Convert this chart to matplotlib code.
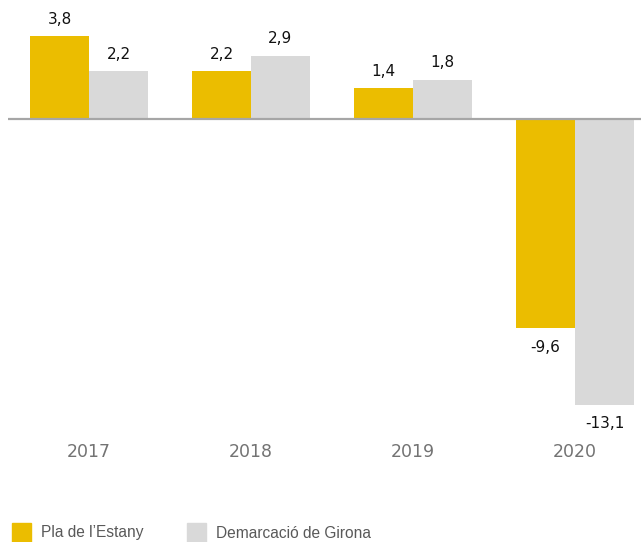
import numpy as np
import matplotlib
matplotlib.use("Agg")
import matplotlib.pyplot as plt
from matplotlib.patches import Rectangle

# Dades
anys = ["2017", "2018", "2019", "2020"]
pla_estany = [3.8, 2.2, 1.4, -9.6]
girona = [2.2, 2.9, 1.8, -13.1]
series = ["Pla de l\u2019Estany", "Demarcació de Girona"]
colors = ["#EBBD00", "#D9D9D9"]

W, H = 641, 542
fig = plt.figure(figsize=(W / 100, H / 100), dpi=100)

# eix: esquerra 8px, dreta 641px, dalt 0px, baix 420px
ax = fig.add_axes([8 / W, 1 - 420 / H, (W - 8) / W, 420 / H])

x = np.arange(len(anys))
w = 0.364
b1 = ax.bar(x - w / 2, pla_estany, width=w, color=colors[0])
b2 = ax.bar(x + w / 2, girona, width=w, color=colors[1])

ppu = 21.8  # pixels per unit
ax.set_ylim(-(420 - 119) / ppu, 119 / ppu)
ax.set_xlim(-0.5, 3 + (641 - 575) / 162)
ax.axhline(0, color="#A6A6A6", lw=1.6, zorder=3)

def fmt(v):
    return f"{v:.1f}".replace(".", ",")

for bars, vals in ((b1, pla_estany), (b2, girona)):
    for r, v in zip(bars, vals):
        off = 17 if v >= 0 else -19
        ax.annotate(fmt(v), (r.get_x() + r.get_width() / 2, v),
                    xytext=(0, off * 0.72), textcoords="offset points",
                    ha="center", va="center", fontsize=11, color="#111111")

for s in ax.spines.values():
    s.set_visible(False)
ax.set_yticks([])
ax.set_xticks([])

# etiquetes dels anys
for xi, a in zip(x, anys):
    ax.text(xi, -(452 - 119) / ppu, a, ha="center", va="center",
            fontsize=12.5, color="#737373")

# llegenda
leg_x = [12, 187]
for lx, lab, c in zip(leg_x, series, colors):
    fig.patches.append(Rectangle((lx / W, 1 - 542 / H), 19 / W, 19 / H,
                                 transform=fig.transFigure, color=c))
    fig.text((lx + 29) / W, 1 - 533 / H, lab, ha="left", va="center",
             fontsize=11.2, color="#595959", family="Liberation Sans")

fig.savefig("out.png", dpi=100)
